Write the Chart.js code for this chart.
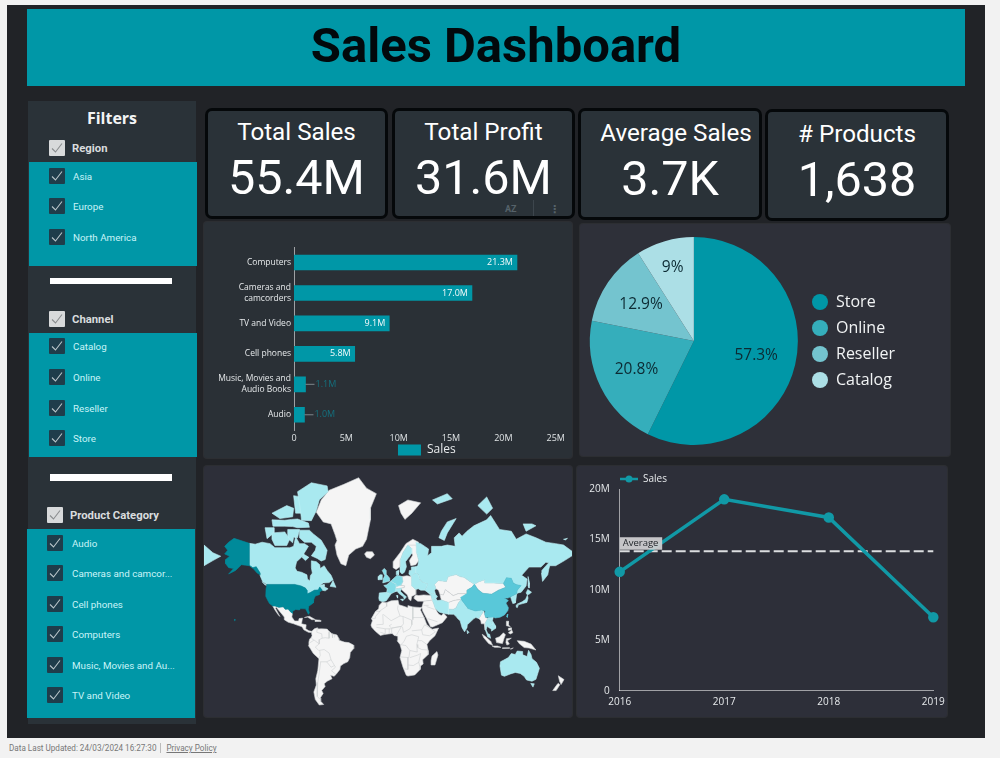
<!DOCTYPE html>
<html><head><meta charset="utf-8"><title>Sales Dashboard</title>
<script src="https://cdn.jsdelivr.net/npm/chart.js@4"></script>
<style>
html,body{margin:0;padding:0;width:1000px;height:758px;overflow:hidden;background:#f2f2f2;font-family:Roboto,sans-serif}
.abs,canvas{position:absolute;display:block}
#frame{left:7px;top:5px;width:978px;height:733px;background:#212327}
#title{left:27px;top:9px;width:938px;height:77px;background:#0097a7;color:#02090c;font:700 49px/73px Roboto;text-align:center}
.side{background:#2a3238}
.teal{background:#0097a7}
.sep{background:#fff}
.chk{position:absolute;width:16px;height:16px;border-radius:1px}
.chk.h{background:#d8dadb}.chk.i{background:#1f3d4b}
.chk svg{position:absolute;left:0;top:0}
.lbl{position:absolute;white-space:nowrap}
.lbl.h{font:700 11.3px/14px Roboto;color:#d9dcde}
.lbl.i{font:400 9.8px/14px Roboto;color:#c9f4f8}
.kpi{box-sizing:border-box;background:#2a3238;border:3px solid #05080a;border-radius:7px;color:#fff;text-align:center}
.kpi .t{position:absolute;left:0;right:0;font:400 24.2px/30px Roboto;white-space:nowrap}
.kpi .v{position:absolute;left:0;right:0;font:400 48.5px/58px Roboto}
.panel{border-radius:3px;box-shadow:0 0 0 1px rgba(255,255,255,.05)}
#footer{left:9px;top:742px;font:400 8.15px/12px Roboto;color:#777;white-space:nowrap}
#footer u{margin-left:4px;padding-left:5px;border-left:1px solid #bbb;text-decoration:underline;display:inline-block;line-height:10px}
</style></head><body>
<div id="frame" class="abs"></div>
<div id="title" class="abs">Sales Dashboard</div>
<div id="ui"></div>
<div class="abs panel" style="left:204px;top:222px;width:368px;height:236px;background:#2a3036"></div>
<div class="abs panel" style="left:580px;top:224px;width:370px;height:232px;background:#2e3039"></div>
<div class="abs panel" style="left:204px;top:466px;width:368px;height:251px;background:#2d2f39"></div>
<div class="abs panel" style="left:577px;top:466px;width:370px;height:251px;background:#2d2f39"></div>
<canvas id="bar" width="368" height="236" style="left:204px;top:222px"></canvas>
<canvas id="pie" width="370" height="232" style="left:580px;top:224px"></canvas>
<canvas id="map" width="368" height="251" style="left:204px;top:466px"></canvas>
<canvas id="line" width="370" height="251" style="left:577px;top:466px"></canvas>
<div id="footer" class="abs">Data Last Updated: 24/03/2024 16:27:30<u>Privacy Policy</u></div>
<script>
/* ---------- chart values ---------- */
const kpiTitles = ['Total Sales','Total Profit','Average Sales','# Products'];
const kpiValues = ['55.4M','31.6M','3.7K','1,638'];
const regionItems = ['Asia','Europe','North America'];
const channelItems = ['Catalog','Online','Reseller','Store'];
const categoryFilterItems = ['Audio','Cameras and camcor...','Cell phones','Computers','Music, Movies and Au...','TV and Video'];

const barCategories = ['Computers',['Cameras and','camcorders'],'TV and Video','Cell phones',['Music, Movies and','Audio Books'],'Audio'];
const barSales = [21.3,17.0,9.1,5.8,1.1,1.0];

const pieLabels = ['Store','Online','Reseller','Catalog'];
const pieValues = [57.3,20.8,12.9,9];
const pieColors = ['#0097a7','#35aebb','#74c4cf','#acdfe6'];

const lineYears = ['2016','2017','2018','2019'];
const lineSales = [11.8,19.0,17.2,7.3];
const lineAverage = [13.85,13.85,13.85,13.85];

/* map regions as [longitude, latitude] outlines */
const mapDark = [
 [[-141,69.6],[-148,70.4],[-156.5,71.3],[-162,70],[-166,68.5],[-163,67],[-166,65.5],[-161,64.5],[-165,63],[-165,61],[-162,59],[-157,58.5],[-162,55.5],[-155,57.5],[-152,59],[-149,60.5],[-145,60.3],[-141,60],[-137,58.5],[-133,56],[-130,55],[-130,56],[-134,59.5],[-137.5,59],[-141,60.3]],
 [[-123,49],[-95,49],[-88.5,48],[-84,46.5],[-82.5,45],[-82.5,42.2],[-79,43.3],[-75,45],[-71,45.2],[-69.5,47.3],[-67,45],[-70,43.5],[-70,41.7],[-74,40.6],[-75.5,38],[-76,35],[-81,32],[-81.3,30],[-80,26.5],[-81,25],[-82.7,28],[-84,30],[-89,30.2],[-90,29],[-94,29.5],[-97.3,27.5],[-97.2,26],[-99.5,27.5],[-101.5,29.8],[-104.5,29.6],[-106.5,31.8],[-111,31.3],[-114.8,32.5],[-117.2,32.5],[-120.5,34.5],[-122.5,37.5],[-124.3,40.4],[-124,46]],
 [[-156,20.6],[-155,19.6],[-155.8,19]]
];
const mapMid = [
 [[73.5,39.5],[80,42.5],[80,45],[85,47],[87.5,49.2],[91,45.5],[96,42.7],[105,42],[112,45],[119.5,47],[117,49.6],[120,53.3],[125,53],[127,50],[130.5,48.8],[135,48.3],[131,45],[130.5,42.5],[128,41.5],[124.3,40],[121.5,39],[118,39],[122,37],[119.5,35],[122,31],[121.5,28.5],[118,24.5],[113.5,22.3],[108.5,21.6],[106.7,22.5],[102,22.3],[99,22],[98,25],[98.5,28],[95,29],[88.5,28],[81,30.3],[78.8,33],[75,37]],
 [[120.1,23],[121.5,25.2],[121,22.2]]
];
const mapSoft = [
 [[-1.5,43.4],[-1,46],[-4.5,48.3],[-1.5,48.7],[2.5,51],[8,49],[7.5,44],[3,42.4],[-2,43.4]],
 [[2.5,51],[4,52],[7,53.6],[9,54.8],[14,54],[15,51],[13,48.5],[8,47.6],[8,49]],
 [[-5.5,50],[1.5,51.2],[1.5,53],[-1.5,55],[-2,57.5],[-4,58.6],[-6,57.5],[-3.5,54.5],[-5,52.5]]
];
const mapLight = [
 [[-141,69.6],[-135,69.3],[-128,70],[-120,69.5],[-115,68],[-108,68],[-100,68],[-96,68.5],[-94,71.8],[-90,69.5],[-85,69.5],[-81,68.5],[-85,66],[-87,64.5],[-93,62],[-94.5,58.8],[-92.5,57],[-88,56.5],[-82.5,55],[-82,52.5],[-79.5,51.3],[-79,54.5],[-77,56],[-78,59],[-78,62.4],[-73,62],[-69.5,60.5],[-69,58.5],[-65,60],[-62,57.5],[-58,54.8],[-56,52],[-60,50.2],[-66,50],[-69,48.5],[-65,49],[-65,47.5],[-61,46],[-64,44.5],[-67,45],[-69.5,47.3],[-71,45.2],[-75,45],[-79,43.3],[-82.5,42.2],[-82.5,45],[-84,46.5],[-88.5,48],[-95,49],[-123,49],[-127.5,51],[-130,54.5],[-130,56],[-134,59.5],[-137.5,59],[-141,60.3]],
 [[-59,47.7],[-56,51.5],[-53,47]],
 [[-128,50.8],[-123.5,48.4],[-125,48.6]],
 [[-90,73.8],[-80,73.8],[-76,72.7],[-68,70.7],[-62,67],[-64,63],[-68,62.3],[-72,63.5],[-78,64.7],[-74,67],[-73,68.5],[-78,70],[-85,70],[-90,71.5]],
 [[-118,73],[-105,73.3],[-100,71],[-103,68.8],[-115,68.8],[-118,71]],
 [[-125,74.5],[-116,74.5],[-116,73],[-123,71.2]],
 [[-92,81.8],[-78,83],[-62,82.6],[-61,81.8],[-70,80.5],[-73,78.5],[-78,76.3],[-88,76.4],[-89,78.5]],
 [[-96,81.2],[-88,81],[-88,78],[-94,78]],
 [[-118,76.5],[-105,76.4],[-98,76.6],[-92,76.7],[-81,75.7],[-80,74.6],[-92,74.5],[-97,74.8],[-105,74.9],[-117,74.9]],
 [[-102,74],[-90,74],[-92,71.5],[-96,71.7],[-97,69.8],[-102,71.3]],
 [[-118,78],[-103,79.5],[-96,79],[-97,77.2],[-110,76.8]],
 [[-87,65.7],[-80.5,64],[-84,62.5],[-87.5,64]],
 [[28,70],[33,69.5],[41,67.5],[40,64.7],[44,66],[44,68.5],[54,68.5],[60,69],[68,68.5],[67,71.5],[72,73],[75,72],[80,73.5],[87,75],[100,76.5],[104,77.5],[113,74],[125,73.5],[130,71],[140,72.7],[150,71.5],[160,70],[170,69.5],[178,69],[187,66.5],[187,64.8],[179,62.5],[170,60],[164,60],[163,58],[162,55],[156.7,51],[155.6,56],[156,57.5],[163,61.5],[160,61.7],[155,59.3],[143,59.3],[135.5,54.7],[141,52.5],[140,48],[135,43.5],[132,43],[130.5,42.5],[131,45],[135,48.3],[130.5,48.8],[127,50],[125,53],[120,53.3],[117,49.6],[107,50],[98,50],[98,52],[92,50.8],[87.5,49.2],[83,51],[77,53.5],[73,54],[69,55.2],[61,54],[59,51],[51,51.5],[47,49],[48.5,46],[47,45],[48,42],[40,43.5],[37,45],[39,47],[40,49.5],[35,50.5],[32,52.3],[31,55],[28,56.2],[28,59.5],[30,60],[31,62.5],[29,66],[28.5,69]],
 [[-187,69],[-178,66],[-170,64.5],[-178,62.5],[-187,60]],
 [[51.5,71.5],[57,70.6],[60,73],[69,76.8],[60,76],[54,73.5]],
 [[45,80.5],[60,81.5],[65,80.7],[50,79.8]],
 [[91,79.5],[100,81],[106,79],[100,77.8]],
 [[137,75.5],[146,75.5],[150,75],[140,73.5]],
 [[178,71],[182,71.3],[180,70.8]],
 [[142,54],[143.5,50],[143,46.5],[142,48]],
 [[44.8,37.5],[48.5,38.5],[50,37],[54,37.5],[61,35.5],[61,29.7],[61.5,25.2],[57,25.7],[52,27],[48,30],[46,35]],
 [[61.5,25.2],[61,29.7],[66,29.5],[69,31],[71,34.5],[74,38],[75,37],[78.8,33],[81,30.3],[88.5,28],[95,29],[97,28],[94,24],[92,21],[89,22],[87,21],[80.3,15],[80,12],[77.5,8],[75,12],[73,19],[70.5,21],[69,23],[66.5,25]],
 [[80,9.5],[82,7.5],[80.5,6]],
 [[40,43.5],[48,42],[50,40.3],[48.5,38.5],[44.8,37.5],[43.5,41]],
 [[101,21],[105,18],[105.5,14.5],[102.5,12],[100.5,13.5],[99.5,10],[101,6.5],[100,6.5],[98.5,10],[98.7,17]],
 [[102,22.3],[106.7,22.5],[105.8,19],[109,14],[109,11.5],[105,8.7],[104.8,10.5],[102.5,12],[105.5,14.5],[105,18],[101,21]],
 [[100,6.5],[103,5.5],[104,1.4],[101,3]],
 [[124.3,40],[128,41.5],[130.5,42.5],[129.5,37],[129,35],[126.5,34.5],[125,38]],
 [[130.8,34],[136,36],[139.5,38],[141.3,41.3],[142,39],[140.8,35.5],[136.5,34.5],[132,33.5]],
 [[130,33.5],[132,33],[131,31],[130,31.5]],
 [[140,43],[141.7,45.5],[145.5,43.5],[143,42],[141,41.7]],
 [[114,-22],[113.5,-26],[115,-34],[118,-35],[124,-33],[129,-31.7],[134,-32.5],[138,-35],[140.5,-38],[146,-39],[150,-37.5],[153.5,-28],[150.5,-22.5],[146,-19],[145,-15],[142.5,-10.8],[141,-17],[136,-15],[136.5,-12],[131,-11.5],[129,-15],[125,-14],[122,-18],[117,-20.5]],
 [[144.7,-40.7],[148.3,-41],[147,-43.5],[146,-43.5]],
 [[-9,43],[-2,43.4],[3,42.4],[0,39],[-2,36.8],[-5.5,36],[-9,37],[-9.5,39]],
 [[7.5,44],[7,45.8],[13.5,46.5],[12.5,44],[16,41.5],[18.5,40],[16.5,38],[15.5,40],[11,42.5],[9,44.2]],
 [[12.5,38],[15.5,38.2],[15,36.7]],
 [[8.3,41],[9.7,41],[9.5,39]],
 [[23.5,54],[28,56.2],[31,55],[32,52.3],[35,50.5],[40,49.5],[39,47],[37,45],[33,45],[30.5,46],[28,45.5],[24,48],[24,51]],
 [[21,55.5],[21.5,57.5],[24,57.5],[23.5,59.3],[28,59.5],[28,56.2],[23.5,54]],
 [[12,59.5],[12.5,63],[15,66],[20,69],[23.5,67.8],[24,65.8],[21,64],[17.5,62],[18.5,59.5],[16.5,56.5],[14,55.5],[12.5,56.5]],
 [[8.3,55],[8.2,57],[10.5,57.5],[10.5,55]],
 [[-10,52],[-6,52.2],[-6,55],[-8.5,55],[-10,54]]
];
const mapWhite = [
 [[-117.2,32.5],[-114.8,32.5],[-111,31.3],[-106.5,31.8],[-104.5,29.6],[-101.5,29.8],[-99.5,27.5],[-97.2,26],[-97.8,22.5],[-95,18.7],[-91,18.7],[-90.5,21],[-87,21.5],[-88,16],[-83.3,15],[-83.7,11],[-80.5,9],[-77.5,8.5],[-78,7.3],[-81,7.5],[-85.7,10],[-87.5,13],[-92,14.5],[-96,16],[-101.5,17.5],[-105.5,20],[-105.5,22.5],[-109.5,27],[-112.8,30.5],[-113.5,31.5],[-114.5,30.5],[-110,23],[-112,25],[-115,29]],
 [[-85,22],[-80,23.2],[-74.2,20.2],[-77.5,19.9],[-82,22.5]],
 [[-74.3,19.8],[-69,19.5],[-68.5,18.3],[-74.3,18.2]],
 [[-77.5,8.5],[-75,11],[-72,12],[-71.5,10.8],[-68,11],[-62,10.7],[-60,8.5],[-57,6],[-52,4.8],[-50,1],[-50,-0.5],[-44.5,-2.5],[-40,-3],[-35.2,-5.5],[-35,-9],[-38.5,-13],[-39,-18],[-41,-22],[-45,-23.7],[-48.5,-26],[-49,-29],[-53,-33.5],[-55,-35],[-58.5,-34],[-57,-37],[-62,-39],[-65,-41],[-64,-43],[-67.5,-46],[-66,-48],[-69,-51],[-68.5,-53],[-65.5,-55],[-70,-55.3],[-74,-52],[-75.5,-47],[-73,-42],[-73.5,-37],[-71.5,-30],[-70.3,-19],[-76,-14],[-81,-6],[-80.5,-2.5],[-79.8,0.5],[-78,2.5],[-77.3,4],[-77.9,7.3]],
 [[-6,35.8],[-2,35.2],[3,36.8],[10,37.3],[11,33.5],[15,32.5],[20,31],[20,32.8],[25,31.7],[32,31.2],[34.2,31.3],[32.7,29],[35.5,24],[37.3,20],[39,15.5],[43.2,11.5],[44.5,10.5],[51.2,11.8],[47.5,4],[42,-1],[39.3,-5],[40.6,-11],[40.6,-15],[35,-20],[35.5,-24],[32.8,-26],[32.5,-29],[27,-33.8],[20,-34.8],[18.3,-34],[15,-27],[12,-18],[13.7,-11],[12,-5],[9,-1],[9.7,3.5],[6,4.3],[4,6.3],[-4,5.2],[-8,4.3],[-13,8.5],[-16.7,12.5],[-17.5,14.7],[-16,19],[-17,21],[-13,27.5],[-9.7,30],[-9.2,33]],
 [[49.5,-12],[50.5,-15.5],[47.5,-25],[44,-25],[43.5,-21],[44.5,-16.5]],
 [[-73,78.2],[-68,80.5],[-60,82],[-45,82.8],[-30,83.6],[-22,82.3],[-12,81.5],[-18,79],[-18,76.5],[-20,74],[-22,71],[-26,68.5],[-33,67.5],[-40,65],[-43,60],[-48,61],[-52,65],[-54,69],[-52,70.5],[-54,72.5],[-58,75.5],[-66,76]],
 [[-24,65.5],[-22,64],[-18,63.4],[-14,65],[-16,66.4],[-22,66.4]],
 [[10.5,79.5],[20,80.5],[33,80],[24,78],[17,76.6],[13,78]],
 [[47,49],[51,51.5],[59,51],[61,54],[69,55.2],[73,54],[77,53.5],[83,51],[87.5,49.2],[85,47],[80,45],[80,42.5],[71,42.5],[66,41],[58,45.5],[56,41.5],[52.5,42],[51,45],[48.5,46]],
 [[52.5,42],[56,41.5],[58,45.5],[66,41],[71,42.5],[80,42.5],[74,38],[67,37.2],[61,35.5],[54,37.5],[53,40]],
 [[61,35.5],[67,37.2],[74,38],[71,34.5],[69,31],[66,29.5],[61,29.7]],
 [[87.5,49.2],[92,50.8],[98,52],[98,50],[107,50],[117,49.6],[119.5,47],[112,45],[105,42],[96,42.7],[91,45.5]],
 [[36,36.5],[42,37],[44.8,37.5],[46,35],[48,30],[50,27],[51.5,25],[54,24],[56.3,26],[59.8,22.5],[55,17],[45,12.8],[43,13],[39,21],[35,28],[34.2,31.3]],
 [[26.5,40],[26.5,38.5],[30,36.5],[36,36.5],[42,37],[44.8,37.5],[43.5,41],[36,41.5],[31,41],[28,41.5]],
 [[92,21],[94,24],[97,28],[98,25],[99,22],[101,21],[98.7,17],[98.5,10],[97.5,16],[94.5,16],[94,19]],
 [[109,1.5],[113,3],[117,7],[119,5],[117.5,1],[116,-4],[110,-3]],
 [[95.5,5.5],[99,3],[104,-1.5],[106,-5.8],[102,-4],[97,2]],
 [[105.5,-6.5],[111,-6.5],[114.5,-7.8],[108,-7.8]],
 [[120,1],[125,1.5],[121,-1],[123,-4.5],[120.5,-5.5],[119.5,-3]],
 [[131,-1],[138,-1.7],[145,-4.5],[150,-10.5],[143,-8.5],[138,-8],[133,-4]],
 [[120,18.5],[122.2,18.5],[122,15],[124,13],[120.5,14]],
 [[122,7],[125.5,9.7],[126.5,7],[124,5.8]],
 [[122,11.5],[125,12],[125,10],[122.5,9.5]],
 [[124,-9.5],[127,-8.4],[125,-9.5]],
 [[116,-8.3],[123,-8.2],[123,-8.8],[116,-9]],
 [[172.7,-34.5],[178.5,-37.7],[175.5,-41.6],[174,-39]],
 [[172.7,-40.5],[174.3,-41.7],[170.5,-46],[167,-46],[171,-42]],
 [[5,59],[5,62],[12,66],[18,69.5],[25,71],[31,70],[28.5,69],[20,69],[15,66],[12.5,63],[12,59.5],[8,58]],
 [[20,69],[28.5,69],[29,66],[31,62.5],[28,60.5],[23,60],[21.5,62.5],[25,65],[24,65.8],[23.5,67.8]],
 [[15,51],[14,54],[19,54.5],[23.5,54],[24,51],[24,48],[28,45.5],[28,42],[26,41],[24,40.5],[23,36.8],[21,38],[19.5,41.5],[13.5,45.5],[13.5,46.5],[16,46.7],[17,48],[13,48.5]],
 [[8,47.6],[13,48.5],[17,48],[16,46.7],[13.5,46.5],[7,45.8]]
];
const mapBorders = [
 [[-60,8],[-60,5],[-60,1.5],[-64,2],[-67,1.5],[-70,0],[-70,-4.3],[-74,-7.5],[-70.5,-11],[-65,-10],[-60,-13.5],[-58,-20],[-54.5,-25.5],[-53.5,-27],[-57.5,-30.2],[-53,-33.5]],
 [[-72,12],[-72.5,7.5],[-67.5,6],[-67,1.5]],[[-80,-3.5],[-75.5,-0.5],[-78,1.5]],[[-75.5,-0.2],[-70,-4.3]],
 [[-70.3,-18.3],[-69,-16],[-69.5,-11]],[[-69,-22],[-62.5,-22],[-58,-20]],[[-68.5,-22],[-70,-32],[-71.5,-40],[-72,-50],[-69,-52]],
 [[-62.5,-22],[-58,-27],[-54.5,-25.5]],[[-57,6],[-56.5,2]],[[-54,5.8],[-54.5,2.3]],
 [[-2,35.2],[-1.5,32.2],[-8.7,28],[-8.7,27.3]],[[-13,27.7],[-8.7,27.7]],[[-17,21],[-13,21.3],[-13,23],[-8.7,27.3]],
 [[-12,15],[-5,15.5],[-5.5,25]],[[10,33],[9.5,30],[12,23.5]],[[-5,25],[3,19],[12,23.5],[15,23],[15.5,16],[13.5,13.5],[3.5,11.7],[1,14],[3.5,15.5]],
 [[25,31.7],[25,20]],[[25,22],[37,22]],[[15,23],[24,19.5],[24,15]],[[24,15],[22,11],[15.5,7.5],[14.5,13]],[[24,9],[34,10]],
 [[3,6.3],[3.5,11.7],[13.5,13.5],[8.5,4.8]],[[37,15],[43,11.5],[48,8],[42,4],[35,5],[34,10],[37,15]],
 [[12,-5],[18,-6],[22,-11],[29.5,-12.5],[29,-5],[31,3],[24,5],[18.5,3.5],[16,-2],[13,-5]],[[30,-1],[34,-1],[39.3,-5]],[[29.5,-5],[30,-8],[34,-10],[40.5,-10.5]],
 [[12,-17.3],[21,-18],[22,-11]],[[20,-18],[20,-29],[16.5,-28.5]],[[20,-25],[25.5,-25.5],[31,-22.5],[32,-26]],[[22,-18],[30,-15.5],[33,-14]],[[33,-14],[31,-22.5]],
 [[-8,7.5],[-3,6],[-3,11]],[[-12,12.5],[-3,11],[3,11]],[[1,6],[1,11]],[[40,21],[50,18]],[[39,32],[47,29.5]],[[41,33],[36,33]]
];

/* ---------- html chrome ---------- */
const ui = document.getElementById('ui');
function box(cls,x,y,w,h){const d=document.createElement('div');d.className='abs '+cls;d.style.cssText+=`left:${x}px;top:${y}px;width:${w}px;height:${h}px`;ui.appendChild(d);return d;}
function check(kind,x,yc){const d=document.createElement('div');d.className='chk '+kind;d.style.left=x+'px';d.style.top=(yc-8)+'px';
 d.innerHTML='<svg width="16" height="16"><polyline points="3,8.5 6.5,12 13,3.5" fill="none" stroke="'+(kind==='h'?'#8a8d8f':'#b9c4c8')+'" stroke-width="1.1"/></svg>';ui.appendChild(d);}
function label(kind,txt,x,yc){const d=document.createElement('div');d.className='lbl '+kind;d.textContent=txt;d.style.left=x+'px';d.style.top=(yc-7)+'px';ui.appendChild(d);}
box('side',28,101,168,623);
box('teal',29,162,168,104);box('teal',29,333,168,124);box('teal',27,529,168,189);
box('sep',50,278,122,6);box('sep',50,474,122,7);
const f=document.createElement('div');f.className='lbl';f.textContent='Filters';f.style.cssText='left:28px;width:168px;top:108px;text-align:center;font:700 16px/20px "Open Sans";color:#f2f4f5';ui.appendChild(f);
function group(head,items,hx,hy,tx,ys,chkX,itX){check('h',hx,hy);label('h',head,tx,hy+1);items.forEach((t,i)=>{check('i',chkX,ys[i]);label('i',t,itX,ys[i]+1);});}
group('Region',regionItems,49,148,72,[175.5,206,236.5],49,73);
group('Channel',channelItems,49,319,72,[346,377,408,438],49,73);
group('Product Category',categoryFilterItems,47,515,70,[542.5,573,603.5,634,664.5,695],47,72);
const kpiBoxes=[[205,108,183,111],[392,108,183,111],[578,108,184,112],[765,109,184,112]];
const kpiTitleShift=[0,0,6,0];
const kpiTitleTop=[6,6,7,7];
const kpiValueTop=[38,38,39,39];
kpiBoxes.forEach((b,i)=>{const d=box('kpi',b[0],b[1],b[2],b[3]);d.innerHTML=`<div class="t" style="top:${kpiTitleTop[i]}px;left:${kpiTitleShift[i]*2}px">${kpiTitles[i]}</div><div class="v" style="top:${kpiValueTop[i]}px">${kpiValues[i]}</div>`;});
const az=document.createElement('div');az.className='lbl';az.textContent='AZ';az.style.cssText='left:505px;top:203px;font:700 9px/12px Roboto;color:#56626a';ui.appendChild(az);
const dots=document.createElement('div');dots.className='lbl';dots.textContent='⋮';dots.style.cssText='left:549px;top:203px;font:700 11px/14px "DejaVu Sans";color:#56626a';ui.appendChild(dots);
box('',533,200,1,16).style.background='#3d464d';

/* ---------- charts ---------- */
Chart.defaults.animation=false;
Chart.defaults.font.family='"Open Sans"';
Chart.defaults.plugins.tooltip.enabled=false;
const TEAL='#0097a7';
const LINE='#1199a6';
const AXIS='rgba(255,255,255,.55)';
const fmtM=v=>v===0?'0':v+'M';

/* bar */
new Chart('bar',{type:'bar',
 data:{labels:barCategories,datasets:[{label:'Sales',data:barSales,backgroundColor:TEAL,barThickness:15}]},
 options:{responsive:false,indexAxis:'y',
  layout:{padding:{left:0,right:16.3,top:25.3,bottom:-10}},
  scales:{
   x:{min:0,max:25,grid:{display:false,drawTicks:false},border:{display:false},
      ticks:{stepSize:5,color:'#dfe3e5',font:{size:9},padding:3,maxRotation:0,callback:fmtM},afterFit:s=>{s.height=14;}},
   y:{grid:{display:false,drawTicks:false},border:{color:AXIS,width:1},
      ticks:{color:'#e6e9eb',font:{size:8.5,lineHeight:1.3},padding:3,autoSkip:false},afterFit:s=>{s.width=90;}}
  },
  plugins:{legend:{position:'bottom',labels:{boxWidth:23,boxHeight:11,color:'#e6e9eb',font:{size:12},padding:2}}}},
 plugins:[{id:'barValues',
  afterLayout(c){const l=c.legend;l.left+=47;l.right+=47;l.top-=2;l.bottom-=2;},
  afterDatasetsDraw(c){const x=c.ctx,m=c.getDatasetMeta(0);x.save();x.font='500 9px "Open Sans"';x.textBaseline='middle';
   m.data.forEach((b,i)=>{const t=barSales[i].toFixed(1)+'M';
    if(barSales[i]>3){x.textAlign='right';x.fillStyle='#f4fbfc';x.fillText(t,b.x-4,b.y);}
    else{x.strokeStyle='#7d868b';x.lineWidth=1;x.beginPath();x.moveTo(b.x,b.y);x.lineTo(b.x+9,b.y);x.stroke();x.textAlign='left';x.fillStyle='#14707e';x.fillText(t,b.x+10,b.y);}});
   x.restore();}}]
});

/* pie */
const pieLabelRadius=[64,64,64,76];
new Chart('pie',{type:'pie',
 data:{labels:pieLabels,datasets:[{data:pieValues,backgroundColor:pieColors,borderWidth:0}]},
 options:{responsive:false,layout:{padding:{left:7.4,right:46.6,top:13,bottom:11}},
  plugins:{legend:{position:'right',labels:{usePointStyle:true,pointStyle:'circle',pointStyleWidth:16,boxHeight:11.3,color:'#f1f3f4',font:{size:16},padding:10}}}},
 plugins:[{id:'pieVals',
  afterLayout(c){const l=c.legend,w=l.right-l.left;l.left=222;l.right=l.left+w;},
  afterDatasetsDraw(c){const x=c.ctx;x.save();x.font='15.5px "Open Sans"';x.fillStyle='#0c2a33';x.textAlign='center';x.textBaseline='middle';
   c.getDatasetMeta(0).data.forEach((a,i)=>{const mid=(a.startAngle+a.endAngle)/2;x.fillText(pieValues[i]+'%',a.x+Math.cos(mid)*pieLabelRadius[i],a.y+Math.sin(mid)*pieLabelRadius[i]);});x.restore();}}]
});

/* map */
const merc=lat=>Math.log(Math.tan(Math.PI/4+lat*Math.PI/360))*180/Math.PI;
const toPts=poly=>poly.concat([poly[0]]).map(p=>({x:p[0],y:merc(p[1])}));
const tier=(list,color,edge)=>list.map(p=>({data:toPts(p),showLine:true,fill:'shape',backgroundColor:color,borderColor:edge,borderWidth:.6,pointRadius:0,tension:0}));
const mapDatasets=[
 ...mapBorders.map(p=>({data:p.map(q=>({x:q[0],y:merc(q[1])})),showLine:true,fill:false,borderColor:'#cdd0d2',borderWidth:.6,pointRadius:0})),
 ...tier(mapDark,'#008a9a','#008a9a'),
 ...tier(mapMid,'#59c8d9','#59c8d9'),
 ...tier(mapSoft,'#84dce7','#c0eef3'),
 ...tier(mapLight,'#a9e9f0','#bff0f5'),
 ...tier(mapWhite,'#f5f5f5','#d4d6d8')
];
new Chart('map',{type:'scatter',data:{datasets:mapDatasets},
 options:{responsive:false,layout:{padding:0},
  scales:{x:{type:'linear',display:false,min:-187,max:186.6},y:{type:'linear',display:false,min:-78.9,max:177.2}},
  plugins:{legend:{display:false}}}});

/* line */
const legendGlyph=document.createElement('canvas');legendGlyph.width=18;legendGlyph.height=8;
(()=>{const g=legendGlyph.getContext('2d');g.strokeStyle=LINE;g.fillStyle=LINE;g.lineWidth=2.5;g.beginPath();g.moveTo(0,4);g.lineTo(18,4);g.stroke();g.beginPath();g.arc(9,4,3.5,0,7);g.fill();})();
new Chart('line',{type:'line',
 data:{labels:lineYears,datasets:[
  {label:'Sales',data:lineSales,borderColor:LINE,backgroundColor:LINE,borderWidth:3.5,pointRadius:3.5,pointBackgroundColor:LINE,tension:0,clip:false},
  {label:'Average',data:lineAverage,borderColor:'#dcdee0',borderWidth:2,borderDash:[10,4],pointRadius:0,tension:0}]},
 options:{responsive:false,layout:{padding:{left:0,right:13.7,top:-2.7,bottom:0}},
  scales:{
   x:{offset:false,grid:{display:false,drawTicks:false},border:{color:AXIS,width:1},ticks:{color:'#e6e9eb',font:{size:10},padding:5,maxRotation:0,autoSkip:false},afterFit:s=>{s.height=26.3;s.paddingLeft=0;s.paddingRight=0;}},
   y:{min:0,max:20,grid:{display:false,drawTicks:false},border:{color:AXIS,width:1},ticks:{stepSize:5,color:'#e6e9eb',font:{size:10},padding:10,callback:fmtM},afterFit:s=>{s.width=42.7;}}
  },
  plugins:{legend:{position:'top',align:'start',labels:{usePointStyle:true,pointStyle:legendGlyph,pointStyleWidth:18,color:'#e6e9eb',font:{size:10},padding:6,filter:i=>i.text==='Sales'}}}},
 plugins:[{id:'avgTag',
  afterLayout(c){const l=c.legend;l.left=37;l.right=c.width;l.top+=4.7;},
  afterDatasetsDraw(c){const x=c.ctx,yp=c.scales.y.getPixelForValue(lineAverage[0]),xp=c.scales.x.getPixelForValue(0);x.save();x.fillStyle='rgba(205,206,208,.95)';x.fillRect(xp,yp-14,42.5,12.5);x.fillStyle='#22262b';x.font='9.5px "Open Sans"';x.textAlign='left';x.textBaseline='middle';x.fillText('Average',xp+3,yp-7.5);x.restore();}}]
});
</script>
</body></html>
